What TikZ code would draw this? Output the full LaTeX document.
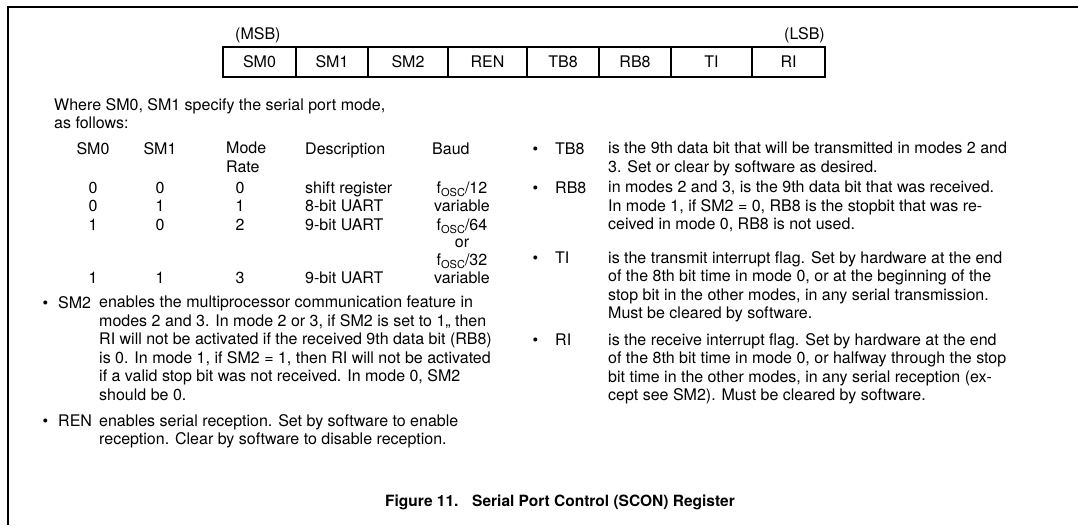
\documentclass[tikz,border=0pt]{standalone}
\usepackage{fontspec}
\setmainfont{TeX Gyre Heros}
\usetikzlibrary{positioning}
\newcommand{\fosc}{f\raisebox{-3pt}{\fontsize{11}{11}\selectfont OSC}}

\begin{document}
\begin{tikzpicture}[x=1pt, y=-1pt, node distance=0pt, font=\fontsize{16}{18.5}\selectfont]
        \tikzstyle{bit} = [rectangle, draw, line width=1.2pt, minimum height=30, inner sep=0pt, outer sep=0pt]
        \tikzstyle{txt} = [anchor=base west, inner sep=0pt]
        \tikzstyle{num} = [anchor=base, inner sep=0pt]
        \tikzstyle{para} = [anchor=north west, align=left, inner sep=0pt]

        \useasboundingbox (0,0) rectangle (1078,525);
        \draw [line width=2.2pt] (8,525) -- (8,7) -- (1078,7);

        % SCON register
        \node [bit, minimum width=73, anchor=north west] (sm0) at (223,47) {SM0};
        \node [bit, minimum width=72, right=of sm0] (sm1) {SM1};
        \node [bit, minimum width=80, right=of sm1] (sm2) {SM2};
        \node [bit, minimum width=79, right=of sm2] (ren) {REN};
        \node [bit, minimum width=72, right=of ren] (tb8) {TB8};
        \node [bit, minimum width=72, right=of tb8] (rb8) {RB8};
        \node [bit, minimum width=81, right=of rb8] (ti) {TI};
        \node [bit, minimum width=73, right=of ti] (ri) {RI};
        \node [txt] (msb) at (235,39) {(MSB)};
        \node [txt, anchor=base east] (lsb) at (825,39) {(LSB)};

        % mode table
        \node [para] (intro) at (54,98) {Where SM0, SM1 specify the serial port mode,\\as follows:};
        \node [num] (hsm0) at (93,154) {SM0};
        \node [num] (hsm1) at (160,154) {SM1};
        \node [para] (hmode) at (226,142) {Mode\\Rate};
        \node [txt] (hdesc) at (305,154) {Description};
        \node [txt] (hbaud) at (432,154) {Baud};

        \node [num] (a0) at (93,193) {0};
        \node [num] (b0) at (160,193) {0};
        \node [num] (m0) at (240,193) {0};
        \node [txt] (d0) at (305,193) {shift register};
        \node [num] (r0) at (462,193) {\fosc/12};

        \node [num] (a1) at (93,211) {0};
        \node [num] (b1) at (160,211) {1};
        \node [num] (m1) at (240,211) {1};
        \node [txt] (d1) at (305,211) {8-bit UART};
        \node [num] (r1) at (462,211) {variable};

        \node [num] (a2) at (93,230) {1};
        \node [num] (b2) at (160,230) {0};
        \node [num] (m2) at (240,230) {2};
        \node [txt] (d2) at (305,230) {9-bit UART};
        \node [num] (r2) at (462,230) {\fosc/64};
        \node [num] (r2or) at (462,247.5) {or};
        \node [num] (r2b) at (462,265) {\fosc/32};

        \node [num] (a3) at (93,283) {1};
        \node [num] (b3) at (160,283) {1};
        \node [num] (m3) at (240,283) {3};
        \node [txt] (d3) at (305,283) {9-bit UART};
        \node [num] (r3) at (462,283) {variable};

        % bit descriptions, left column
        \node [txt] (lsm2) at (58,308) {\llap{\textbullet\hspace{10pt}}SM2};
        \node [para] (tsm2) at (99,296) {enables the multiprocessor communication feature in\\modes 2 and 3. In mode 2 or 3, if SM2 is set to 1,, then\\RI will not be activated if the received 9th data bit (RB8)\\is 0. In mode 1, if SM2 = 1, then RI will not be activated\\if a valid stop bit was not received. In mode 0, SM2\\should be 0.};
        \node [txt] (lren) at (58,426) {\llap{\textbullet\hspace{10pt}}REN};
        \node [para] (tren) at (99,414) {enables serial reception. Set by software to enable\\reception. Clear by software to disable reception.};

        % bit descriptions, right column
        \node [txt] (ltb8) at (555,154) {\llap{\textbullet\hspace{17pt}}TB8};
        \node [para] (ttb8) at (608,142) {is the 9th data bit that will be transmitted in modes 2 and\\3. Set or clear by software as desired.};
        \node [txt] (lrb8) at (555,193) {\llap{\textbullet\hspace{17pt}}RB8};
        \node [para] (trb8) at (608,181) {in modes 2 and 3, is the 9th data bit that was received.\\In mode 1, if SM2 = 0, RB8 is the stopbit that was re-\\ceived in mode 0, RB8 is not used.};
        \node [txt] (lti) at (555,263) {\llap{\textbullet\hspace{17pt}}TI};
        \node [para] (tti) at (608,251) {is the transmit interrupt flag. Set by hardware at the end\\of the 8th bit time in mode 0, or at the beginning of the\\stop bit in the other modes, in any serial transmission.\\Must be cleared by software.};
        \node [txt] (lri) at (555,345) {\llap{\textbullet\hspace{17pt}}RI};
        \node [para] (tri) at (608,333) {is the receive interrupt flag. Set by hardware at the end\\of the 8th bit time in mode 0, or halfway through the stop\\bit time in the other modes, in any serial reception (ex-\\cept see SM2). Must be cleared by software.};

        \node [num, font=\fontsize{15.5}{18}\selectfont\bfseries] (caption) at (560,506) {Figure 11.\hspace{8pt} Serial Port Control (SCON) Register};
\end{tikzpicture}
\end{document}
